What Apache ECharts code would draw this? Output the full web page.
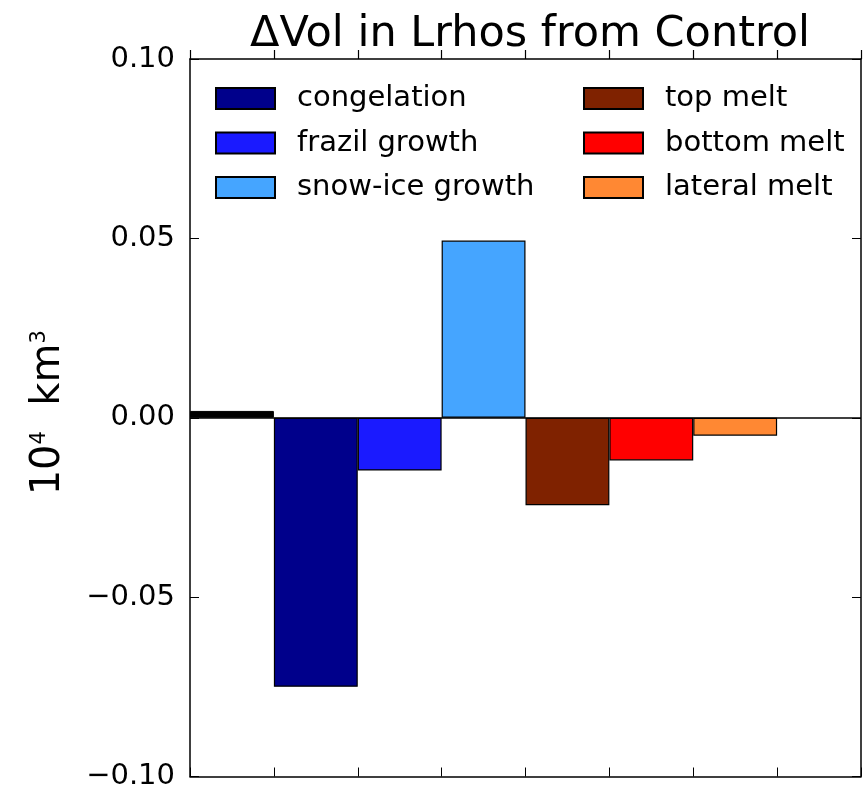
<!DOCTYPE html>
<html>
<head>
<meta charset="utf-8">
<script src="https://cdn.jsdelivr.net/npm/echarts@6/dist/echarts.min.js"></script>
<style>
  html, body { margin: 0; padding: 0; background: #fff; }
  #chart { width: 865px; height: 791px; }
</style>
</head>
<body>
<div id="chart"></div>
<script>
// slots along x: first slot holds the small black net bar, last slot is empty
const categories = ["net", "congelation", "frazil growth", "snow-ice growth", "top melt", "bottom melt", "lateral melt", ""];
const netValue = 0.0019;
const termNames = ["congelation", "frazil growth", "snow-ice growth", "top melt", "bottom melt", "lateral melt"];
const termValues = [-0.075, -0.0147, 0.0494, -0.0244, -0.0119, -0.005];
const termColors = ["#00008b", "#1a1aff", "#45a5ff", "#7f2200", "#ff0000", "#ff8833"];
const yTicks = [-0.1, -0.05, 0, 0.05, 0.1];

const FONT = "DejaVu Sans";
const chart = echarts.init(document.getElementById("chart"));

function slotData(idx, value) {
  return categories.map((c, i) => (i === idx ? value : null));
}

const series = [
  {
    name: "net",
    type: "bar",
    stack: "all",
    barWidth: "100%",
    data: slotData(0, netValue),
    itemStyle: { color: "#000", borderColor: "#000", borderWidth: 1 },
    markLine: {
      silent: true,
      symbol: "none",
      label: { show: false },
      lineStyle: { color: "#000", width: 1.5, type: "solid" },
      data: [{ yAxis: 0 }],
    },
  },
];
termNames.forEach((name, i) => {
  series.push({
    name: name,
    type: "bar",
    stack: "all",
    barWidth: "100%",
    data: slotData(i + 1, termValues[i]),
    itemStyle: { color: termColors[i], borderColor: "#000", borderWidth: 1.2 },
  });
});

const legendCommon = () => ({
  orient: "vertical",
  itemWidth: 59,
  itemHeight: 21,
  itemGap: 15.5,
  icon: "rect",
  selectedMode: false,
  textStyle: { fontFamily: FONT, fontSize: 29, color: "#000", lineHeight: 21, padding: [0, 0, 0, 17] },
});

const frameLine = () => ({ show: true, onZero: false, lineStyle: { color: "#000", width: 1.5 } });
const innerTick = () => ({ show: true, inside: true, length: 9, interval: 0, lineStyle: { color: "#000", width: 1 } });

chart.setOption({
  animation: false,
  backgroundColor: "#fff",
  title: {
    text: "ΔVol in Lrhos from Control",
    left: 525,
    top: 8,
    textAlign: "center",
    textStyle: { fontFamily: FONT, fontSize: 43, fontWeight: "normal", color: "#000" },
  },
  legend: [
    Object.assign({ left: 210, top: 79, data: termNames.slice(0, 3) }, legendCommon()),
    Object.assign({ left: 578, top: 79, data: termNames.slice(3) }, legendCommon()),
  ],
  grid: { left: 190, right: 4, top: 59, bottom: 12, containLabel: false },
  xAxis: [
    {
      type: "category",
      data: categories,
      position: "bottom",
      axisLine: frameLine(),
      axisTick: innerTick(),
      axisLabel: { show: false },
      splitLine: { show: false },
    },
    {
      // top frame, ticks on every category boundary
      type: "category",
      data: categories,
      position: "top",
      axisLine: frameLine(),
      axisTick: { show: true, inside: false, length: 9, interval: 0, lineStyle: { color: "#000", width: 1.2 } },
      axisLabel: { show: false },
      splitLine: { show: false },
    },
  ],
  yAxis: [
    {
      type: "value",
      min: yTicks[0],
      max: yTicks[yTicks.length - 1],
      interval: 0.05,
      position: "left",
      axisLine: frameLine(),
      axisTick: innerTick(),
      splitLine: { show: false },
      axisLabel: {
        margin: 15,
        fontFamily: FONT,
        fontSize: 29,
        color: "#000",
        formatter: (v) => (v < 0 ? "\u2212" + Math.abs(v).toFixed(2) : v.toFixed(2)),
      },
      name: "{a|10}{s|4}{a|  km}{s|3}",
      nameLocation: "middle",
      nameRotate: 90,
      nameGap: 121,
      nameTextStyle: {
        padding: [0, 0, 0, 10],
        rich: {
          a: { fontFamily: FONT, fontSize: 40, color: "#000" },
          s: { fontFamily: FONT, fontSize: 21, color: "#000", verticalAlign: "top", padding: [0, 0, 19, 0] },
        },
      },
    },
    {
      type: "value",
      min: yTicks[0],
      max: yTicks[yTicks.length - 1],
      interval: 0.05,
      position: "right",
      axisLine: frameLine(),
      axisTick: innerTick(),
      axisLabel: { show: false },
      splitLine: { show: false },
    },
  ],
  series: series.concat([
    // empty series bound to the top axis so its ticks are laid out
    { type: "bar", xAxisIndex: 1, yAxisIndex: 0, data: [], silent: true },
  ]),
});
</script>
</body>
</html>
